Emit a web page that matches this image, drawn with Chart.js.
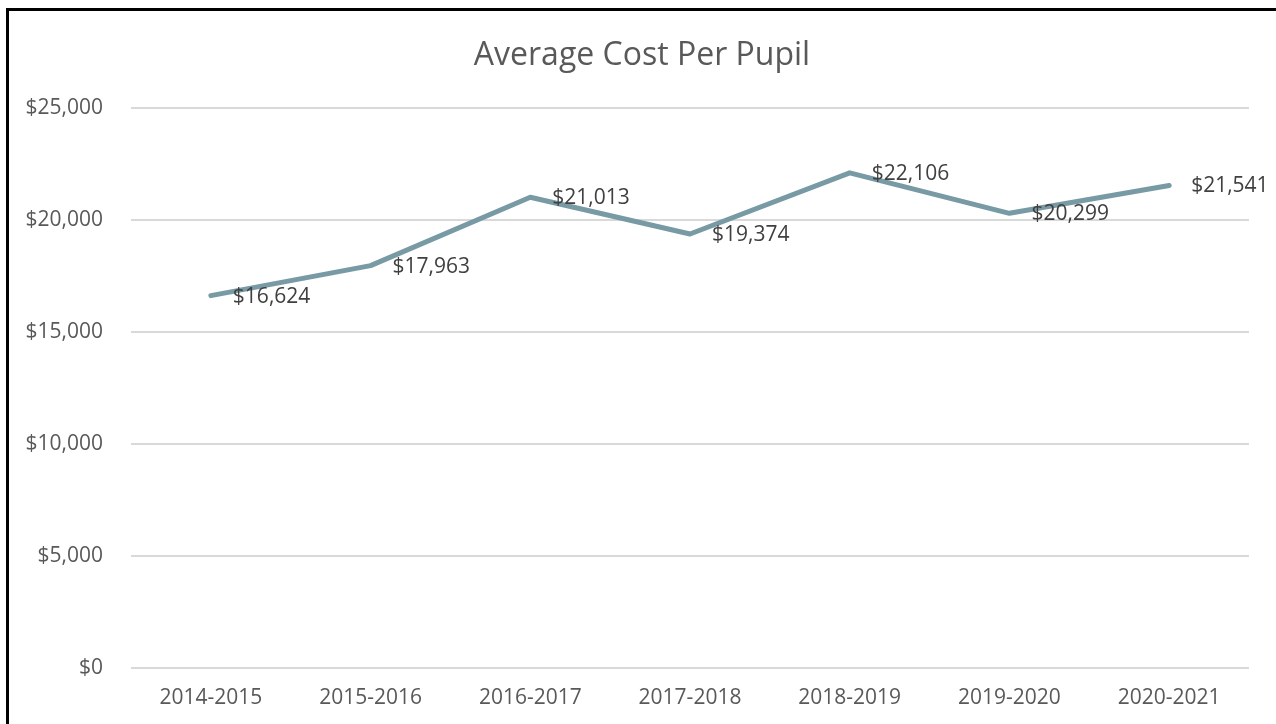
<!DOCTYPE html>
<html>
<head>
<meta charset="utf-8">
<script src="https://cdn.jsdelivr.net/npm/chart.js@4/dist/chart.umd.min.js"></script>
<style>
  html, body { margin: 0; padding: 0; background: #fff; overflow: hidden; }
  #wrap { position: absolute; left: 0; top: 0; width: 1276px; height: 724px; }
  #frame { position: absolute; left: 6px; top: 8px; width: 1276px; height: 724px;
           border-left: 3px solid #000; border-top: 3px solid #000; box-sizing: border-box; pointer-events: none; }
  canvas { position: absolute; left: 0; top: 0; }
</style>
</head>
<body>
<div id="wrap"><canvas id="c" width="1276" height="724"></canvas></div>
<div id="frame"></div>
<script>
const categories = ['2014-2015', '2015-2016', '2016-2017', '2017-2018', '2018-2019', '2019-2020', '2020-2021'];
const costPerPupil = [16624, 17963, 21013, 19374, 22106, 20299, 21541];
const yTickValues = [0, 5000, 10000, 15000, 20000, 25000];
const chartTitle = 'Average Cost Per Pupil';

const fmt = v => '$' + Number(v).toLocaleString('en-US');
const FONT = "'Open Sans', 'Liberation Sans', sans-serif";

const dataLabels = {
  id: 'dataLabels',
  afterDatasetsDraw(chart) {
    const ctx = chart.ctx;
    const meta = chart.getDatasetMeta(0);
    ctx.save();
    ctx.font = '21px ' + FONT;
    ctx.fillStyle = '#404040';
    ctx.textAlign = 'left';
    ctx.textBaseline = 'middle';
    meta.data.forEach((pt, i) => {
      ctx.fillText(fmt(chart.data.datasets[0].data[i]), pt.x + 22, pt.y + 1);
    });
    ctx.restore();
  }
};

// Title centred within the framed chart box (frame spans from x=8 to the right edge)
const frameTitle = {
  id: 'frameTitle',
  afterDraw(chart) {
    const ctx = chart.ctx;
    ctx.save();
    ctx.font = '32px ' + FONT;
    ctx.fillStyle = '#595959';
    ctx.textAlign = 'center';
    ctx.textBaseline = 'middle';
    ctx.fillText(chartTitle, (8 + chart.width) / 2, 56);
    ctx.restore();
  }
};

new Chart(document.getElementById('c'), {
  type: 'line',
  data: {
    labels: categories,
    datasets: [{
      data: costPerPupil,
      borderColor: '#789AA4',
      borderWidth: 5,
      pointRadius: 0,
      tension: 0,
      borderCapStyle: 'round',
      borderJoinStyle: 'round'
    }]
  },
  options: {
    responsive: false,
    animation: false,
    layout: { padding: { left: 0, right: 27, top: 108, bottom: 0 } },
    plugins: {
      legend: { display: false },
      tooltip: { enabled: false },
      title: { display: false }
    },
    scales: {
      x: {
        offset: true,
        grid: { display: false, drawTicks: false },
        border: { display: false },
        afterFit(scale) { scale.height = 56; },
        ticks: { color: '#595959', font: { family: FONT, size: 21 }, padding: 17, maxRotation: 0 }
      },
      y: {
        min: 0,
        max: 25000,
        afterBuildTicks(scale) { scale.ticks = yTickValues.map(v => ({ value: v })); },
        afterFit(scale) { scale.width = 131; },
        grid: { color: '#D9D9D9', lineWidth: 2, drawTicks: false },
        border: { display: false },
        ticks: { color: '#595959', font: { family: FONT, size: 21 }, padding: 28, callback: v => fmt(v) }
      }
    }
  },
  plugins: [dataLabels, frameTitle]
});
</script>
</body>
</html>
